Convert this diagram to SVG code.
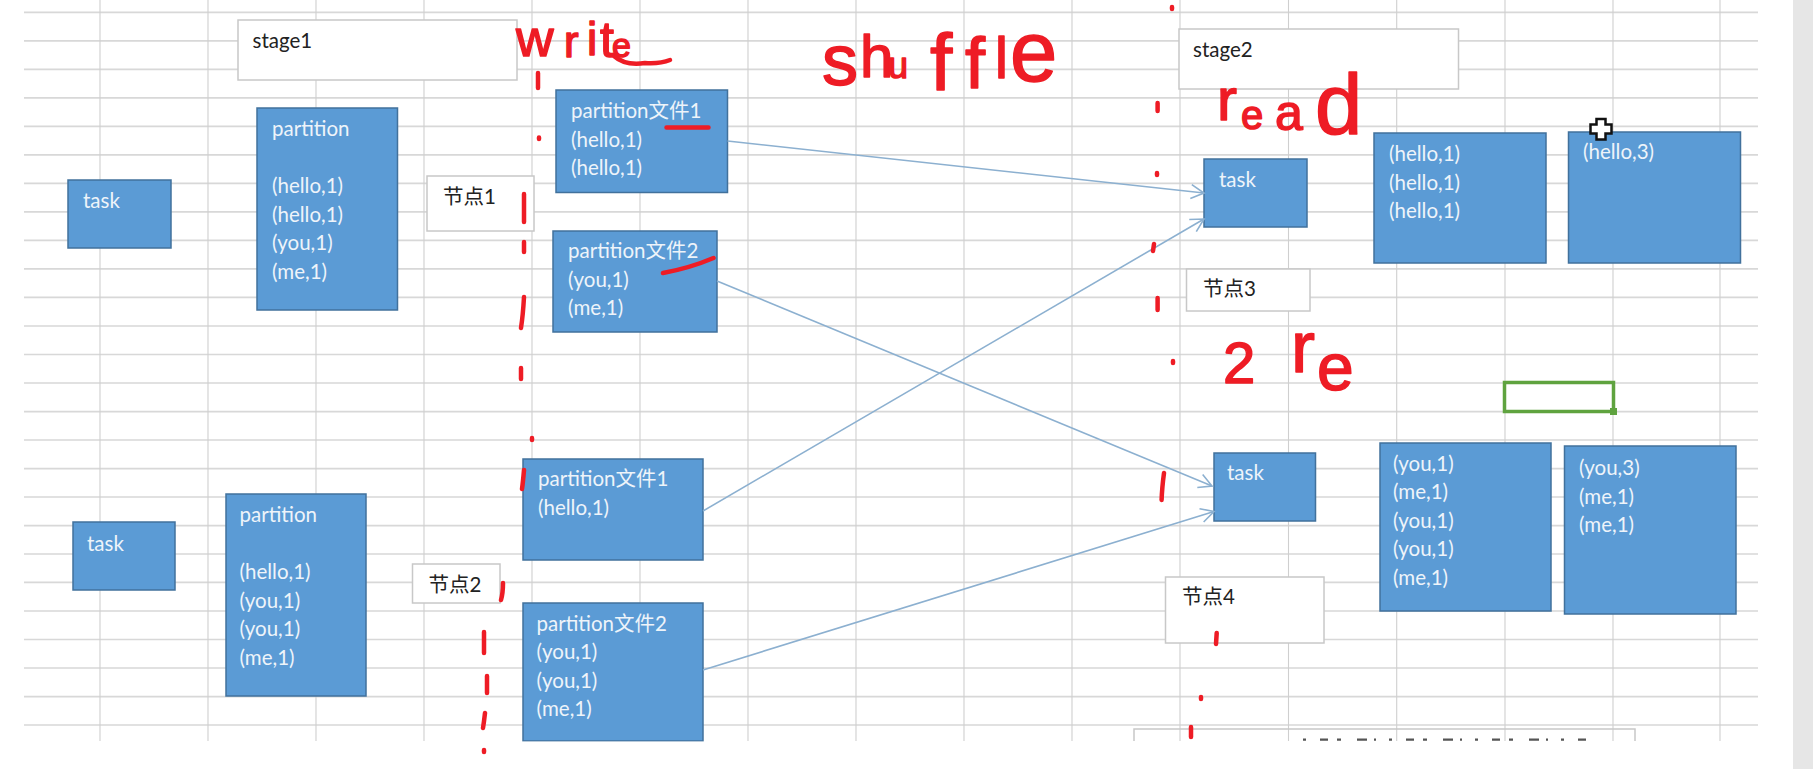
<svg xmlns="http://www.w3.org/2000/svg" width="1813" height="769" viewBox="0 0 1813 769">
<style>
.hl{stroke:#d8d8d8;stroke-width:1.7;fill:none}
.vl{stroke:#cfcfcf;stroke-width:1.1;fill:none}
.blue{fill:#5b9bd5;stroke:#41719c;stroke-width:1.5}
.white{fill:#fff;stroke:#c8c8c8;stroke-width:1.5}
text{font-family:Lato,"Noto Sans CJK SC",sans-serif;font-size:20.5px}
.lt{fill:#eef4fa}
.dk{fill:#222}
.conn{stroke:#8cb0d0;stroke-width:1.6;fill:none;marker-end:url(#arrow)}
.ink{stroke:#ee1c25;stroke-width:4.5;stroke-linecap:round;fill:none}
.hand{font-family:"Liberation Sans",sans-serif;fill:#ee1c25;stroke:#ee1c25;stroke-width:1.5;stroke-linejoin:round}
</style>
<defs>
<marker id="arrow" markerUnits="userSpaceOnUse" markerWidth="20" markerHeight="20" refX="14" refY="8" orient="auto">
<path d="M1 1L14 8L1 15" fill="none" stroke="#8cb0d0" stroke-width="1.6"/>
</marker>
</defs>
<rect width="1813" height="769" fill="#fff"/>
<rect x="1793" y="0" width="20" height="769" fill="#e6e6e6"/>
<g id="grid">
<path class="hl" d="M24 12.3H1758M24 40.8H1758M24 69.3H1758M24 97.9H1758M24 126.4H1758M24 154.9H1758M24 183.4H1758M24 211.9H1758M24 240.4H1758M24 268.9H1758M24 297.4H1758M24 326H1758M24 354.5H1758M24 383H1758M24 411.6H1758M24 440H1758M24 468.7H1758M24 497H1758M24 525.7H1758M24 554H1758M24 582.3H1758M24 611H1758M24 639.5H1758M24 668H1758M24 696.6H1758M24 725H1758"/>
<path class="vl" d="M100 0V741M208 0V741M316 0V741M424 0V741M532 0V741M640 0V741M748 0V741M856 0V741M964 0V741M1072 0V741M1180 0V741M1288.5 0V741M1396.7 0V741M1505 0V741M1613 0V741M1720 0V741"/>
</g>
<g id="selection">
<rect x="1504.5" y="382.5" width="109" height="29" fill="none" stroke="#5fa33f" stroke-width="3.5"/>
<rect x="1610" y="408" width="7" height="7" fill="#5fa33f"/>
</g>
<g id="stage1"><rect class="white" x="238" y="20" width="279" height="60"/><text class="dk" x="252.5" y="47.5">stage1</text></g>
<g id="stage2"><rect class="white" x="1179" y="29" width="279.5" height="60"/><text class="dk" x="1193" y="56.5">stage2</text></g>
<g id="node1"><rect class="white" x="427" y="176" width="107" height="55"/><text class="dk" x="443" y="204">节点1</text></g>
<g id="node2"><rect class="white" x="412.5" y="564" width="87.5" height="39"/><text class="dk" x="428.5" y="592">节点2</text></g>
<g id="node3"><rect class="white" x="1186.5" y="269" width="123.5" height="42"/><text class="dk" x="1203" y="296">节点3</text></g>
<g id="node4"><rect class="white" x="1165.5" y="577" width="158.5" height="66"/><text class="dk" x="1182" y="604">节点4</text></g>
<g id="note">
<path class="white" style="fill:none" d="M1134 741V729H1635V741"/>
<path d="M1303 739.7H1593" fill="none" stroke="#555" stroke-width="2.2" stroke-dasharray="3 14 8 9 4 16 10 7 2 13"/>
</g>
<g id="task1"><rect class="blue" x="68" y="180" width="103" height="68"/><text class="lt" x="83" y="207.5">task</text></g>
<g id="task2"><rect class="blue" x="73" y="522" width="102" height="68"/><text class="lt" x="87" y="550.5">task</text></g>
<g id="task3"><rect class="blue" x="1204" y="159" width="103" height="68"/><text class="lt" x="1219" y="187">task</text></g>
<g id="task4"><rect class="blue" x="1214" y="453" width="101.5" height="68"/><text class="lt" x="1227" y="480">task</text></g>
<g id="partition1"><rect class="blue" x="257" y="108" width="140.5" height="202"/><text class="lt"><tspan x="272" y="136">partition</tspan><tspan x="272" y="193">(hello,1)</tspan><tspan x="272" y="221.5">(hello,1)</tspan><tspan x="272" y="250">(you,1)</tspan><tspan x="272" y="278.5">(me,1)</tspan></text></g>
<g id="partition2"><rect class="blue" x="226" y="494" width="140" height="202"/><text class="lt"><tspan x="239.5" y="522">partition</tspan><tspan x="239.5" y="579">(hello,1)</tspan><tspan x="239.5" y="607.5">(you,1)</tspan><tspan x="239.5" y="636">(you,1)</tspan><tspan x="239.5" y="664.5">(me,1)</tspan></text></g>
<g id="file1a"><rect class="blue" x="556" y="90" width="171.5" height="102.5"/><text class="lt"><tspan x="571" y="118">partition文件1</tspan><tspan x="571" y="147">(hello,1)</tspan><tspan x="571" y="175">(hello,1)</tspan></text></g>
<g id="file2a"><rect class="blue" x="553" y="231" width="164" height="101"/><text class="lt"><tspan x="568" y="258">partition文件2</tspan><tspan x="568" y="287">(you,1)</tspan><tspan x="568" y="315">(me,1)</tspan></text></g>
<g id="file1b"><rect class="blue" x="523" y="459" width="180" height="101"/><text class="lt"><tspan x="538" y="486">partition文件1</tspan><tspan x="538" y="514.5">(hello,1)</tspan></text></g>
<g id="file2b"><rect class="blue" x="523" y="603" width="180" height="138"/><text class="lt"><tspan x="536.5" y="630.5">partition文件2</tspan><tspan x="536.5" y="659">(you,1)</tspan><tspan x="536.5" y="687.5">(you,1)</tspan><tspan x="536.5" y="716">(me,1)</tspan></text></g>
<g id="merge1"><rect class="blue" x="1374" y="133" width="172" height="130"/><text class="lt"><tspan x="1389" y="161">(hello,1)</tspan><tspan x="1389" y="189.5">(hello,1)</tspan><tspan x="1389" y="218">(hello,1)</tspan></text></g>
<g id="result1"><rect class="blue" x="1568.5" y="132" width="172" height="131"/><text class="lt" x="1583" y="159">(hello,3)</text></g>
<g id="merge2"><rect class="blue" x="1380" y="443" width="171" height="168"/><text class="lt"><tspan x="1393" y="470.5">(you,1)</tspan><tspan x="1393" y="499">(me,1)</tspan><tspan x="1393" y="527.5">(you,1)</tspan><tspan x="1393" y="556">(you,1)</tspan><tspan x="1393" y="584.5">(me,1)</tspan></text></g>
<g id="result2"><rect class="blue" x="1564.5" y="446" width="171.5" height="168"/><text class="lt"><tspan x="1579" y="475">(you,3)</tspan><tspan x="1579" y="503.5">(me,1)</tspan><tspan x="1579" y="532">(me,1)</tspan></text></g>
<g id="connectors">
<path class="conn" d="M727.5 141L1204 193"/>
<path class="conn" d="M717 281L1212 486"/>
<path class="conn" d="M703 511L1204 219"/>
<path class="conn" d="M703 670L1214 511.5"/>
</g>
<path id="cursor" d="M1596.5 119H1605.5V124.5H1611.5V133.5H1605.5V139.5H1596.5V133.5H1590.5V124.5H1596.5Z" fill="#fff" stroke="#111" stroke-width="2.5"/>
<g id="annotations">
<path class="ink" d="M538 73V88M539 137.5V139M524 194V222M524 242V252M524 297Q523 315 521 328M521 368V379M532 438V440M524 470Q523 482 522 489M503 583Q503 593 501 600M484 632V653M487 676V693M485 713Q484 722 483 728M1172 7V9M1157.6 103V111M1157 173V175M1154 244L1153 251M1157.6 298V310M1173 361V363M1164 473Q1162 488 1161.6 500M1216.7 633L1216 644M1201 697V699M1191 727V737"/>
<path class="ink" d="M666.5 127.5H708.5M663 273Q690 268 713.5 258"/>
<path class="ink" d="M614 56Q625 66 645 63Q660 64 670 60"/>
<text class="hand"><tspan x="516" y="56" font-size="52">w</tspan><tspan x="564" y="57" font-size="44">r</tspan><tspan x="587" y="55" font-size="46">i</tspan><tspan x="600" y="57" font-size="50">t</tspan><tspan x="612" y="57" font-size="34">e</tspan></text>
<text class="hand"><tspan x="822" y="85" font-size="72">s</tspan><tspan x="860" y="77" font-size="60">h</tspan><tspan x="888" y="78" font-size="36">u</tspan><tspan x="930" y="90" font-size="80">f</tspan><tspan x="965" y="88" font-size="72">f</tspan><tspan x="995" y="78" font-size="58">l</tspan><tspan x="1010" y="81" font-size="85">e</tspan></text>
<text class="hand"><tspan x="1217" y="120" font-size="60">r</tspan><tspan x="1241" y="129" font-size="40">e</tspan><tspan x="1275" y="130" font-size="50">a</tspan><tspan x="1315" y="134" font-size="85">d</tspan></text>
<text class="hand"><tspan x="1223" y="383" font-size="58">2</tspan><tspan x="1291" y="372" font-size="72">r</tspan><tspan x="1317" y="390" font-size="66">e</tspan></text>
</g>
<rect x="0" y="741.5" width="1793" height="28" fill="#fff"/>
<path class="ink" d="M484 750V752"/>
</svg>
